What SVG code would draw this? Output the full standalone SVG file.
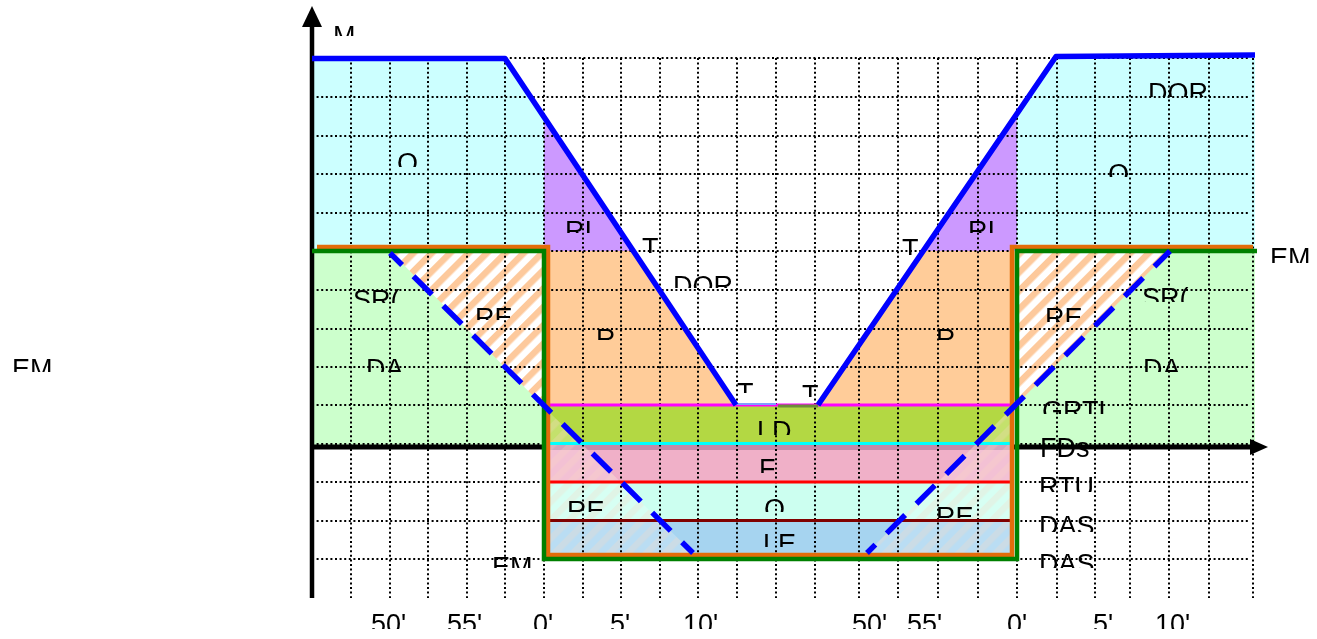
<svg xmlns="http://www.w3.org/2000/svg" width="1317" height="639" viewBox="0 0 1317 639">
<defs>
<style>
.lbl{font-family:"Liberation Sans",Arial,sans-serif;font-size:27px;fill:#000}
.grid{fill:none;stroke:#000;stroke-width:2;stroke-dasharray:2 2.6}
.blue{fill:none;stroke:#0000ff;stroke-width:5.5;stroke-linejoin:round}
.bdash{fill:none;stroke:#0000ff;stroke-width:5.5;stroke-dasharray:26 16}
</style>
<pattern id="hatch" patternUnits="userSpaceOnUse" width="13" height="13" patternTransform="rotate(45)">
<rect width="13" height="13" fill="#ffffff"/>
<rect width="6.5" height="13" fill="#fdc99c"/>
</pattern>
<pattern id="hatchFaint" patternUnits="userSpaceOnUse" width="13" height="13" patternTransform="rotate(45)">
<rect width="13" height="13" fill="#ffffff" fill-opacity="0.22"/>
<rect width="6.5" height="13" fill="#f7d6c0" fill-opacity="0.28"/>
</pattern>
<clipPath id="tclip">
<rect x="330" y="20" width="28" height="16"/>
<rect x="394" y="147" width="26" height="20"/>
<rect x="562" y="215" width="32" height="18"/>
<rect x="639" y="232" width="22" height="21"/>
<rect x="670" y="270" width="66" height="18"/>
<rect x="734" y="377" width="22" height="16"/>
<rect x="799" y="379" width="22" height="18"/>
<rect x="899" y="233" width="22" height="22"/>
<rect x="965" y="215" width="32" height="18"/>
<rect x="1105" y="158" width="26" height="19"/>
<rect x="1145" y="77" width="66" height="20"/>
<rect x="1267" y="242" width="48" height="21"/>
<rect x="350" y="284" width="52" height="19"/>
<rect x="472" y="302" width="43" height="18"/>
<rect x="363" y="353" width="43" height="19"/>
<rect x="593" y="323" width="25" height="17"/>
<rect x="933" y="323" width="25" height="17"/>
<rect x="1042" y="302" width="43" height="20"/>
<rect x="1139" y="282" width="52" height="20"/>
<rect x="1140" y="353" width="43" height="19"/>
<rect x="1039" y="395" width="78" height="19"/>
<rect x="1037" y="432" width="55" height="25"/>
<rect x="1036" y="471" width="61" height="21"/>
<rect x="1036" y="510" width="61" height="22"/>
<rect x="1036" y="548" width="61" height="20"/>
<rect x="754" y="415" width="40" height="20"/>
<rect x="756" y="453" width="22" height="20"/>
<rect x="761" y="493" width="26" height="19"/>
<rect x="760" y="528" width="39" height="19"/>
<rect x="564" y="495" width="43" height="17"/>
<rect x="933" y="501" width="43" height="17"/>
<rect x="489" y="551" width="46" height="17"/>
<rect x="9" y="353" width="46" height="19"/>
<rect x="368" y="608" width="41" height="21"/>
<rect x="444" y="608" width="41" height="21"/>
<rect x="530" y="608" width="26" height="21"/>
<rect x="607" y="608" width="26" height="21"/>
<rect x="680" y="608" width="41" height="21"/>
<rect x="849" y="608" width="41" height="21"/>
<rect x="904" y="608" width="41" height="21"/>
<rect x="1004" y="608" width="26" height="21"/>
<rect x="1090" y="608" width="26" height="21"/>
<rect x="1152" y="608" width="41" height="21"/>
</clipPath>
</defs>
<rect width="1317" height="639" fill="#ffffff"/>

<g id="fills">
<polygon points="312,58.5 505,58.5 544,117 544,249 312,249" fill="#ccffff"/>
<polygon points="544,117 633.3,251 544,251" fill="#cc99ff"/>
<polygon points="544,251 633.3,251 736,405 544,405" fill="#ffcc99"/>
<polygon points="1017,113.6 1056,56.5 1255,55 1255,249 1017,249" fill="#ccffff"/>
<polygon points="923.2,251 1017,113.6 1017,251" fill="#cc99ff"/>
<polygon points="818,405 923.2,251 1017,251 1017,405" fill="#ffcc99"/>
<rect x="312" y="251" width="232" height="196" fill="#ccffcc"/>
<rect x="1017" y="251" width="238" height="196" fill="#ccffcc"/>
<polygon points="390,251 544,251 544,407" fill="url(#hatch)"/>
<polygon points="1017,251 1170,251 1017,404" fill="url(#hatch)"/>
</g>

<g id="axes">
<line x1="312" y1="598" x2="312" y2="24" stroke="#000" stroke-width="4.5"/>
<polygon points="312,6 302,27 322,27" fill="#000"/>
<line x1="312" y1="447" x2="1252" y2="447" stroke="#000" stroke-width="5"/>
<polygon points="1268,447 1250,439 1250,455" fill="#000"/>
</g>

<g id="bands">
<rect x="546" y="405" width="468" height="39" fill="#b3d843"/>
<rect x="546" y="444" width="468" height="38" fill="#f0b0c8"/>
<rect x="546" y="445" width="468" height="5" fill="#c48aa8"/>
<rect x="546" y="482" width="468" height="39" fill="#ccfff0"/>
<rect x="546" y="521" width="468" height="34" fill="#a6d4f0"/>
<polygon points="546,409 546,553 693,553" fill="url(#hatchFaint)"/>
<polygon points="1014,406 1014,553 867,553" fill="url(#hatchFaint)"/>
</g>

<g id="grid">
<path class="grid" d="M351 58V598M390 58V598M428 58V598M467 58V598M505 58V598M544 58V598M583 58V598M621 58V598M660 58V598M698 58V598M737 58V598M776 58V598M815 58V598M859 58V598M898 58V598M938 58V598M978 58V598M1017 58V598M1057 58V598M1095 58V598M1130 58V598M1169 58V598M1209 58V598M1253 58V598"/>
<path class="grid" d="M312 58H1250M312 97H1250M312 136H1250M312 174H1250M312 213H1250M312 251H1250M312 290H1250M312 329H1250M312 367H1250M312 405H1250M312 444H1250M312 482H1250M312 521H1250M312 559H1250"/>
</g>

<g id="connectors">
<line x1="544" y1="405" x2="1012" y2="405" stroke="#ff00ff" stroke-width="3"/>
<line x1="544" y1="443.5" x2="1012" y2="443.5" stroke="#00ffff" stroke-width="3"/>
<line x1="544" y1="482" x2="1013" y2="482" stroke="#ff0000" stroke-width="3"/>
<line x1="544" y1="520.5" x2="1012" y2="520.5" stroke="#800000" stroke-width="3"/>
<path d="M317 247H548V555H1012V247H1253" fill="none" stroke="#e36c0a" stroke-width="4.5"/>
<path d="M312 251H544V559H1017V251H1257" fill="none" stroke="#008000" stroke-width="4.5"/>
<line x1="736" y1="404" x2="776" y2="404" stroke="#7f9fff" stroke-width="2"/>
<line x1="778" y1="406" x2="818" y2="406" stroke="#6e8c3a" stroke-width="3"/>
<path class="blue" d="M312 58.5H505L736 405"/>
<path class="blue" d="M818 405L1056 56.5L1255 55"/>
<line class="bdash" x1="390" y1="253" x2="693" y2="553" stroke-dashoffset="9"/>
<line class="bdash" x1="1170" y1="251" x2="867" y2="553" stroke-dashoffset="4"/>
</g>

<g id="labels" clip-path="url(#tclip)">
<text class="lbl" x="333" y="44.5">M</text>
<text class="lbl" x="397" y="172">O</text>
<text class="lbl" x="565" y="239.5">RI</text>
<text class="lbl" x="642" y="256.5">T</text>
<text class="lbl" x="673" y="294.5">DOR</text>
<text class="lbl" x="737" y="401.5">T</text>
<text class="lbl" x="802" y="403.5">T</text>
<text class="lbl" x="902" y="257.5">T</text>
<text class="lbl" x="968" y="239.5">RI</text>
<text class="lbl" x="1108" y="183">O</text>
<text class="lbl" x="1148" y="101.5">DOR</text>
<text class="lbl" x="1270" y="266.5">EM</text>
<text class="lbl" x="353" y="308.5">SR(</text>
<text class="lbl" x="475" y="326.5">RE</text>
<text class="lbl" x="366" y="377.5">DA</text>
<text class="lbl" x="596" y="347.5">R</text>
<text class="lbl" x="936" y="347.5">R</text>
<text class="lbl" x="1045" y="326.5">RE</text>
<text class="lbl" x="1142" y="306.5">SR(</text>
<text class="lbl" x="1143" y="377.5">DA</text>
<text class="lbl" x="1042" y="419.5">GRTL</text>
<text class="lbl" x="1040" y="456.5">FDs</text>
<text class="lbl" x="1039" y="495.5">RTU</text>
<text class="lbl" x="1039" y="534.5">DAS</text>
<text class="lbl" x="1039" y="572.5">DAS</text>
<text class="lbl" x="757" y="439.5">LD</text>
<text class="lbl" x="759" y="477.5">F</text>
<text class="lbl" x="764" y="518">O</text>
<text class="lbl" x="763" y="552.5">LE</text>
<text class="lbl" x="567" y="519.5">RE</text>
<text class="lbl" x="936" y="525.5">RE</text>
<text class="lbl" x="492" y="575.5">EM</text>
<text class="lbl" x="12" y="377.5">EM</text>
<text class="lbl" x="371" y="632.5">50'</text>
<text class="lbl" x="447" y="632.5">55'</text>
<text class="lbl" x="533" y="632.5">0'</text>
<text class="lbl" x="610" y="632.5">5'</text>
<text class="lbl" x="683" y="632.5">10'</text>
<text class="lbl" x="852" y="632.5">50'</text>
<text class="lbl" x="907" y="632.5">55'</text>
<text class="lbl" x="1007" y="632.5">0'</text>
<text class="lbl" x="1093" y="632.5">5'</text>
<text class="lbl" x="1155" y="632.5">10'</text>
</g>
</svg>
